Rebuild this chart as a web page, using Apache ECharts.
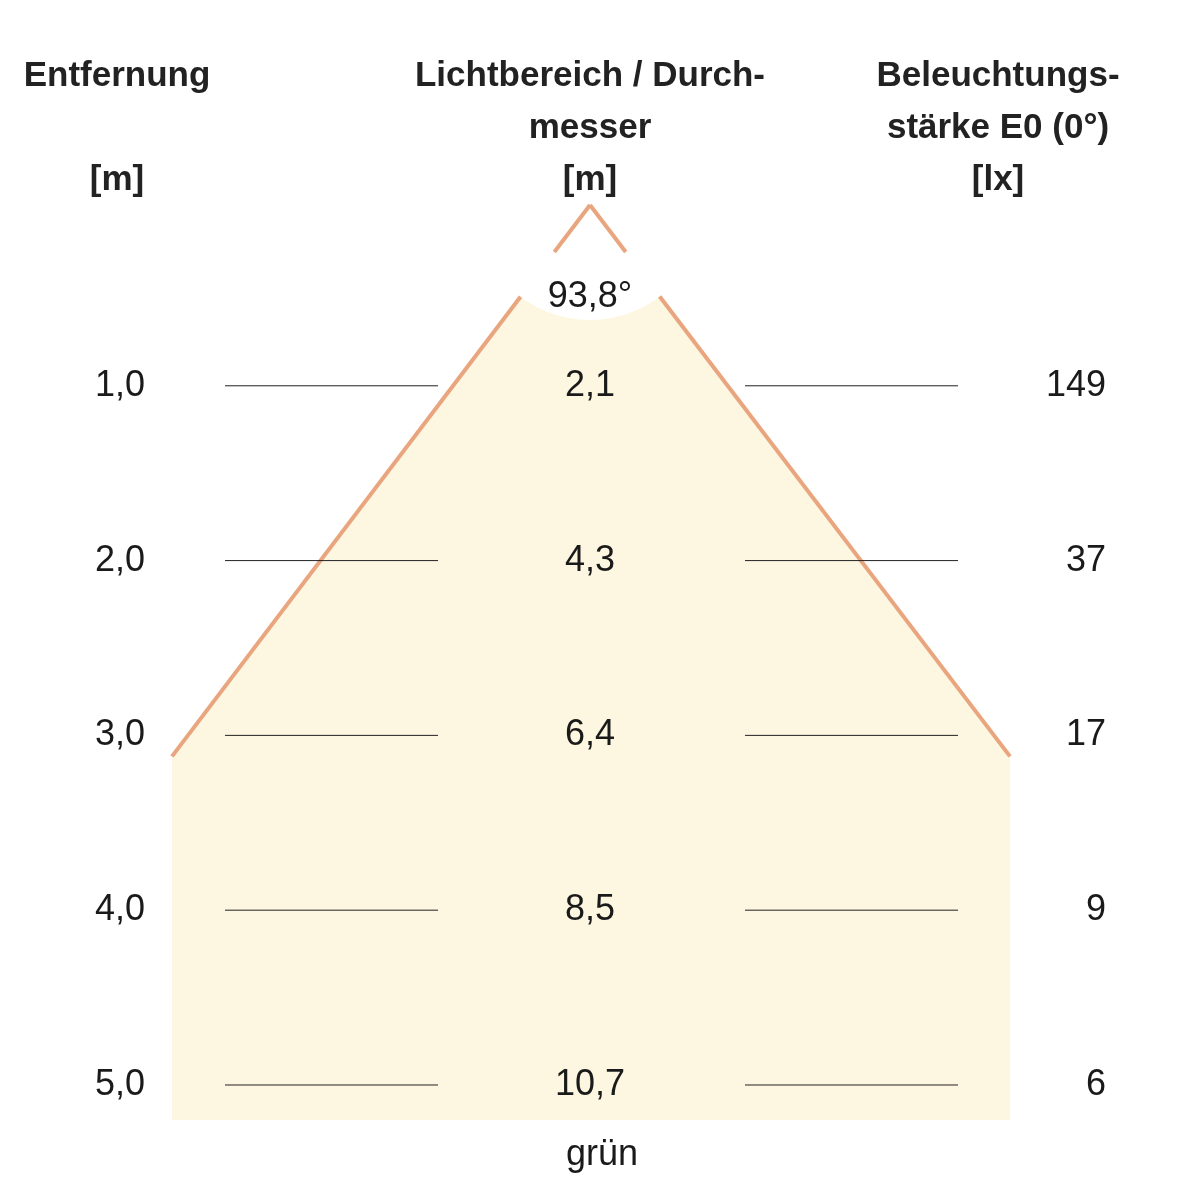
<!DOCTYPE html>
<html>
<head>
<meta charset="utf-8">
<script src="https://cdn.jsdelivr.net/npm/echarts@6/dist/echarts.min.js"></script>
<style>
  html, body { margin: 0; padding: 0; background: #fff; }
  #chart { width: 1182px; height: 1182px; }
</style>
</head>
<body>
<div id="chart"></div>
<script>
// Werte aus dem Diagramm
const distances = [1.0, 2.0, 3.0, 4.0, 5.0]
const diameters = ['2,1', '4,3', '6,4', '8,5', '10,7']
const illuminance = ['149', '37', '17', '9', '6']
const beamAngle = '93,8°'
const colorName = 'grün'

// schematischer Lichtkegel (x in Zeichen-Einheiten, y in Metern)
const coneApex = [590, -0.034]
const coneLeft = [172, 3.12]
const coneRight = [1010, 3.12]
const coneBottom = 5.2

const font = '"Liberation Sans Narrow", "Liberation Sans", Arial, sans-serif'
const fmt = (v) => v.toFixed(1).replace('.', ',')

const chart = echarts.init(document.getElementById('chart'))

const headStyle = { fontFamily: font, fontWeight: 'bold', fontSize: 35, fill: '#222', lineHeight: 52, align: 'center' }

const labelSeries = (x, texts, align) => ({
  type: 'scatter',
  symbolSize: 0,
  silent: true,
  itemStyle: { opacity: 1 },
  data: distances.map((d, i) => ({ value: [x, d], label: { formatter: texts[i] } })),
  label: { show: true, position: 'inside', align: align, verticalAlign: 'middle', fontFamily: font, fontSize: 36, color: '#1a1a1a', opacity: 1 },
  z: 5,
})

const option = {
  animation: false,
  grid: { left: 0, right: 0, top: 0, bottom: 0 },
  xAxis: { type: 'value', min: 0, max: 1182, show: false },
  yAxis: { type: 'value', min: -1.207, max: 5.555, inverse: true, show: false },
  graphic: [
    { type: 'text', z: 100, x: 117, y: 50, style: Object.assign({ text: 'Entfernung\n\n[m]' }, headStyle) },
    { type: 'text', z: 100, x: 590, y: 50, style: Object.assign({ text: 'Lichtbereich / Durch-\nmesser\n[m]' }, headStyle) },
    { type: 'text', z: 100, x: 998, y: 50, style: Object.assign({ text: 'Beleuchtungs-\nstärke E0 (0°)\n[lx]' }, headStyle) },
  ],
  series: [
    {
      type: 'custom',
      silent: true,
      data: [0],
      z: 1,
      renderItem: (params, api) => {
        const a = api.coord(coneApex)
        const l = api.coord(coneLeft)
        const r = api.coord(coneRight)
        const bl = api.coord([coneLeft[0], coneBottom])
        const br = api.coord([coneRight[0], coneBottom])
        const rad = 115, gap = 59
        const seg = (p, t0, t1) => {
          const dx = p[0] - a[0], dy = p[1] - a[1]
          const len = Math.sqrt(dx * dx + dy * dy)
          return [[a[0] + dx * t0 / len, a[1] + dy * t0 / len], t1 == null ? p : [a[0] + dx * t1 / len, a[1] + dy * t1 / len]]
        }
        const lineStyle = { stroke: '#e9a57e', lineWidth: 4, fill: null }
        const children = [
          { type: 'polygon', shape: { points: [a, l, bl, br, r] }, style: { fill: '#fdf6e0' } },
          { type: 'sector', shape: { cx: a[0], cy: a[1], r: rad, startAngle: 0, endAngle: Math.PI }, style: { fill: '#fff' } },
        ]
        ;[l, r].forEach((p) => {
          children.push({ type: 'polyline', shape: { points: seg(p, 0, gap) }, style: lineStyle })
          children.push({ type: 'polyline', shape: { points: seg(p, rad) }, style: lineStyle })
        })
        children.push({ type: 'text', x: a[0], y: a[1] + 92, style: { text: beamAngle, fontFamily: font, fontSize: 36, fill: '#1a1a1a', align: 'center', verticalAlign: 'middle' } })
        return { type: 'group', children: children }
      },
    },
    {
      type: 'custom',
      silent: true,
      data: distances,
      z: 3,
      renderItem: (params, api) => {
        const d = api.value(0)
        const mk = (x0, x1) => ({ type: 'line', shape: { x1: api.coord([x0, d])[0], y1: api.coord([x0, d])[1], x2: api.coord([x1, d])[0], y2: api.coord([x1, d])[1] }, style: { stroke: '#222', lineWidth: 1 } })
        return { type: 'group', children: [mk(225, 438), mk(745, 958)] }
      },
    },
    labelSeries(120, distances.map(fmt), 'center'),
    labelSeries(590, diameters, 'center'),
    labelSeries(1106, illuminance, 'right'),
    {
      type: 'scatter',
      symbolSize: 0,
      silent: true,
      itemStyle: { opacity: 1 },
      data: [{ value: [602, 5.4], label: { formatter: colorName } }],
      label: { show: true, position: 'inside', verticalAlign: 'middle', fontFamily: font, fontSize: 36, color: '#1a1a1a' },
    },
  ],
}

chart.setOption(option)
</script>
</body>
</html>
